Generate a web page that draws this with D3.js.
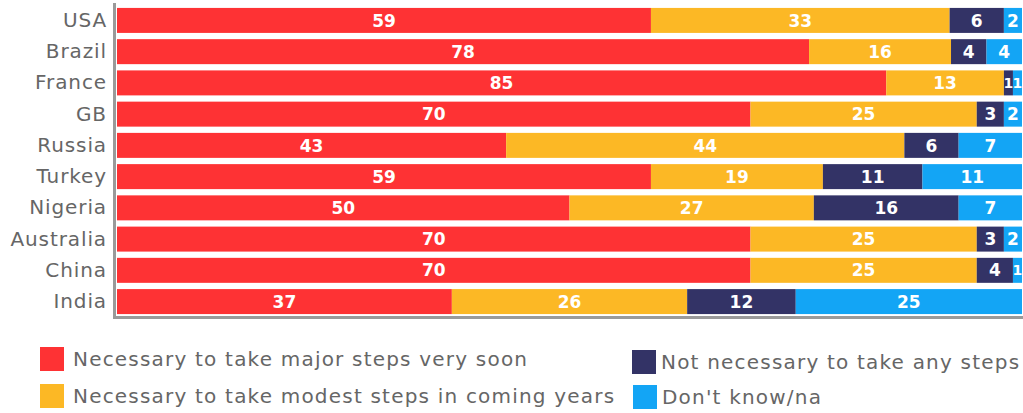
<!DOCTYPE html>
<html>
<head>
<meta charset="utf-8">
<script src="https://cdn.jsdelivr.net/npm/d3@7"></script>
<style>
  html, body { margin: 0; padding: 0; background: #fff; }
  svg { display: block; }
</style>
</head>
<body>
<svg id="chart" width="1023" height="413"></svg>
<script>
// Countries, top to bottom
const countries = ["USA", "Brazil", "France", "GB", "Russia", "Turkey", "Nigeria", "Australia", "China", "India"];

// Response shares (%) per country
const majorSteps   = [59, 78, 85, 70, 43, 59, 50, 70, 70, 37];
const modestSteps  = [33, 16, 13, 25, 44, 19, 27, 25, 25, 26];
const noSteps      = [6, 4, 1, 3, 6, 11, 16, 3, 4, 12];
const dontKnow     = [2, 4, 1, 2, 7, 11, 7, 2, 1, 25];

const seriesKeys   = ["major", "modest", "none", "dk"];
const seriesNames  = [
  "Necessary to take major steps very soon",
  "Necessary to take modest steps in coming years",
  "Not necessary to take any steps",
  "Don't know/na"
];
const seriesColors = ["#fe3234", "#fcb825", "#333366", "#13a5f5"];

const rows = countries.map((c, i) => ({
  country: c,
  major: majorSteps[i],
  modest: modestSteps[i],
  none: noSteps[i],
  dk: dontKnow[i]
}));

const svg = d3.select("#chart");

const x = d3.scaleLinear().domain([0, 1]).range([117, 1022]);
const y = d3.scaleBand().domain(countries).range([4.8, 317.2])
  .paddingInner(0.2).paddingOuter(0.1);
const color = d3.scaleOrdinal().domain(seriesKeys).range(seriesColors);

// Each row is scaled to fill the full width
const stacked = d3.stack().keys(seriesKeys).offset(d3.stackOffsetExpand)(rows);

const layers = svg.append("g").selectAll("g")
  .data(stacked)
  .join("g")
  .attr("fill", d => color(d.key));

layers.selectAll("rect")
  .data(d => d)
  .join("rect")
  .attr("x", d => x(d[0]))
  .attr("y", d => y(d.data.country))
  .attr("width", d => x(d[1]) - x(d[0]))
  .attr("height", y.bandwidth());

// Value labels in each segment (smaller type in very thin segments)
const labelLayers = svg.append("g")
  .attr("font-family", "DejaVu Sans, sans-serif")
  .attr("font-weight", "bold")
  .attr("fill", "#fff")
  .attr("text-anchor", "middle")
  .selectAll("g")
  .data(stacked)
  .join("g");

labelLayers.selectAll("text")
  .data(d => d.map(p => ({ p, key: d.key })))
  .join("text")
  .attr("x", d => (x(d.p[0]) + x(d.p[1])) / 2)
  .attr("y", d => y(d.p.data.country) + y.bandwidth() / 2)
  .attr("dy", "0.36em")
  .attr("font-size", d => (x(d.p[1]) - x(d.p[0]) < 12 ? 14 : 17))
  .text(d => d.p.data[d.key]);

// Axis lines
const axisColor = "#9a9a9a";
svg.append("line")
  .attr("x1", 114.5).attr("x2", 114.5)
  .attr("y1", 3).attr("y2", 319)
  .attr("stroke", axisColor).attr("stroke-width", 3);
svg.append("line")
  .attr("x1", 113).attr("x2", 1023)
  .attr("y1", 317.5).attr("y2", 317.5)
  .attr("stroke", axisColor).attr("stroke-width", 3);

// Country labels
const yAxis = d3.axisLeft(y).tickSize(0).tickPadding(0);
const yg = svg.append("g").attr("transform", "translate(107,0)").call(yAxis);
yg.select(".domain").remove();
yg.selectAll("text")
  .attr("font-family", "DejaVu Sans, sans-serif")
  .attr("font-size", 20)
  .attr("letter-spacing", "0.9px")
  .attr("fill", "#666");

// Legend
const legendPos = [
  { x: 40, y: 347 },
  { x: 40, y: 384 },
  { x: 632, y: 350 },
  { x: 633, y: 385 }
];
const legend = svg.append("g").selectAll("g")
  .data(seriesKeys)
  .join("g")
  .attr("transform", (d, i) => `translate(${legendPos[i].x},${legendPos[i].y})`);

legend.append("rect")
  .attr("width", 24).attr("height", 24)
  .attr("fill", d => color(d));

legend.append("text")
  .attr("x", (d, i) => 661 - 632 + (i < 2 ? 4 : 0))
  .attr("y", 12)
  .attr("dy", "0.36em")
  .attr("font-family", "DejaVu Sans, sans-serif")
  .attr("font-size", 20)
  .attr("letter-spacing", "1.2px")
  .attr("fill", "#666")
  .text((d, i) => seriesNames[i]);
</script>
</body>
</html>
